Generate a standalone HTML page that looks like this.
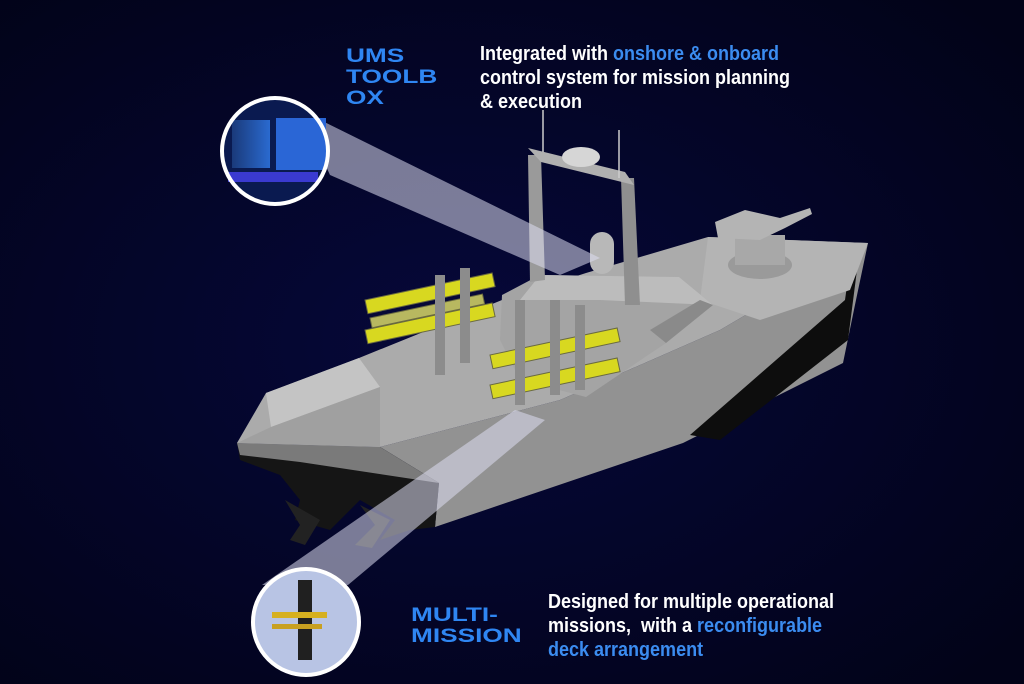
<!DOCTYPE html>
<html><head><meta charset="utf-8"><style>
html,body{margin:0;padding:0;width:1024px;height:684px;overflow:hidden;background:#03041f}
.t{position:absolute;font-family:"Liberation Sans",sans-serif;font-weight:bold;color:#fff;font-size:20px;line-height:24px;white-space:nowrap;transform:scaleX(0.9);transform-origin:0 0}
.b{color:#3b8cf0}
.lbl{position:absolute;font-family:"Liberation Sans",sans-serif;font-weight:900;color:#2f86f2;font-size:19px;line-height:21px;transform:scaleX(1.38);transform-origin:0 0}
</style></head><body>
<svg width="1024" height="684" style="position:absolute;left:0;top:0">
<defs>
<radialGradient id="bg" cx="0.45" cy="0.5" r="0.7"><stop offset="0" stop-color="#06083a"/><stop offset="1" stop-color="#020318"/></radialGradient>
<linearGradient id="scr" x1="0" y1="0" x2="1" y2="0"><stop offset="0" stop-color="#1a3a7a"/><stop offset="1" stop-color="#2a6ad0"/></linearGradient>
</defs>
<rect width="1024" height="684" fill="url(#bg)"/>
<!-- hull side -->
<polygon points="380,447 439,483 435,527 683,443 843,363 856,300 868,243 720,330 560,400" fill="#929292"/>
<!-- dark stripe -->
<polygon points="690,435 845,300 852,250 858,262 848,340 720,440" fill="#0d0d0d"/>
<!-- stern black -->
<polygon points="237,443 240,460 280,475 300,500 295,520 330,530 360,500 395,520 380,540 410,530 435,527 439,483 380,447 300,462" fill="#151515"/>
<polygon points="285,500 300,525 290,540 305,545 320,520" fill="#222"/>
<polygon points="360,505 375,525 355,545 372,548 390,520" fill="#222"/>
<!-- stern transom grey -->
<polygon points="237,443 380,447 439,483 300,462 240,455" fill="#7a7a7a"/>
<!-- deck -->
<polygon points="237,443 266,393 359,358 502,300 586,273 708,237 868,243 720,330 560,400 380,447" fill="#ababab"/>
<polygon points="266,393 359,358 380,387 271,427" fill="#c4c4c4"/>
<polygon points="237,443 271,427 380,387 380,447" fill="#a0a0a0"/>
<polygon points="708,237 868,243 850,290 760,320 700,300" fill="#b4b4b4"/>
<!-- superstructure -->
<polygon points="502,295 540,275 679,277 713,305 666,343 586,397 520,380 500,340" fill="#a4a4a4"/>
<polygon points="540,275 679,277 713,305 600,300 520,300" fill="#bcbcbc"/>
<polygon points="666,343 713,305 700,300 650,330" fill="#8a8a8a"/>
<!-- mast -->
<polygon points="528,155 541,155 545,280 530,282" fill="#9a9a9a"/>
<polygon points="621,178 634,178 640,305 625,305" fill="#8f8f8f"/>
<polygon points="528,148 625,172 634,185 541,162" fill="#b0b0b0"/>
<ellipse cx="581" cy="157" rx="19" ry="10" fill="#d6d6d6"/>
<line x1="543" y1="110" x2="543" y2="152" stroke="#ccc" stroke-width="1.5"/>
<line x1="619" y1="130" x2="619" y2="178" stroke="#ccc" stroke-width="1.5"/>
<rect x="590" y="232" width="24" height="42" rx="12" fill="#b8b8b8"/>
<!-- gun -->
<ellipse cx="760" cy="265" rx="32" ry="14" fill="#9a9a9a"/>
<rect x="735" y="235" width="50" height="30" fill="#a8a8a8"/>
<polygon points="715,222 745,210 780,218 810,208 812,214 785,228 760,240 718,238" fill="#b4b4b4"/>
<!-- launchers -->
<g fill="#d8d820" stroke="#6a6a40" stroke-width="1">
<rect x="365" y="300" width="130" height="14" transform="rotate(-12 365 300)"/>
<rect x="365" y="330" width="130" height="14" transform="rotate(-12 365 330)"/>
<rect x="370" y="318" width="115" height="10" transform="rotate(-12 370 318)" fill="#b8b860"/>
<rect x="490" y="355" width="130" height="14" transform="rotate(-12 490 355)"/>
<rect x="490" y="385" width="130" height="14" transform="rotate(-12 490 385)"/>
</g>
<g fill="#8c8c8c">
<rect x="435" y="275" width="10" height="100"/><rect x="460" y="268" width="10" height="95"/>
<rect x="515" y="300" width="10" height="105"/><rect x="550" y="300" width="10" height="95"/>
<rect x="575" y="305" width="10" height="85"/>
</g>
<!-- beams -->
<polygon points="300,110 330,175 560,275 600,258" fill="#dcdcf0" opacity="0.55"/>
<polygon points="262,585 348,585 545,420 515,410" fill="#dcdcf0" opacity="0.55"/>
<!-- circles -->
<circle cx="275" cy="151" r="53" fill="#0a1a50"/>
<rect x="232" y="120" width="38" height="48" fill="url(#scr)"/>
<rect x="276" y="118" width="50" height="52" fill="#2a66d6"/>
<rect x="228" y="172" width="90" height="10" fill="#3a3ad0"/>
<circle cx="275" cy="151" r="53" fill="none" stroke="#fff" stroke-width="4"/>
<circle cx="306" cy="622" r="53" fill="#b8c4e4"/>
<rect x="298" y="580" width="14" height="80" fill="#202020"/>
<rect x="272" y="612" width="55" height="6" fill="#d6b020"/>
<rect x="272" y="624" width="50" height="5" fill="#c8a020"/>
<circle cx="306" cy="622" r="53" fill="none" stroke="#fff" stroke-width="4"/>
</svg>
<div class="lbl" style="left:346px;top:46px">UMS<br>TOOLB<br>OX</div>
<div class="t" style="left:480px;top:42px">Integrated with <span class="b">onshore &amp; onboard</span><br>control system for mission planning<br>&amp; execution</div>
<div class="lbl" style="left:411px;top:605px">MULTI-<br>MISSION</div>
<div class="t" style="left:548px;top:590px">Designed for multiple operational<br>missions,&nbsp; with a <span class="b">reconfigurable</span><br><span class="b">deck arrangement</span></div>
</body></html>
